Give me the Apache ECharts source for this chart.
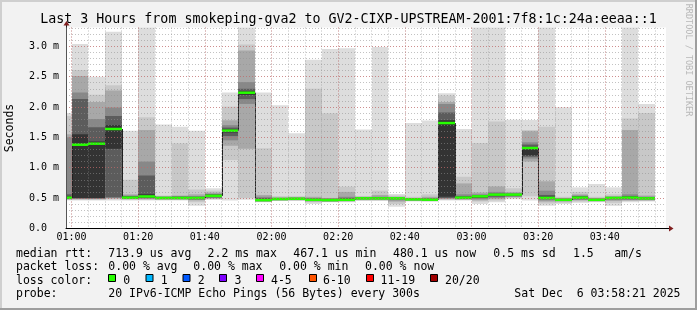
<!DOCTYPE html>
<html><head><meta charset="utf-8">
<script src="https://cdn.jsdelivr.net/npm/echarts@6/dist/echarts.min.js"></script>
<style>html,body{margin:0;padding:0;background:#f2f2f2}#c{width:697px;height:310px}</style>
</head><body><div id="c"></div>
<script>
// ---- data (5-minute smokeping steps, values in ms) ----
const barStart = ['00:55','01:00','01:05','01:10','01:15','01:20','01:25','01:30','01:35','01:40',
  '01:45','01:50','01:55','02:00','02:05','02:10','02:15','02:20','02:25','02:30',
  '02:35','02:40','02:45','02:50','02:55','03:00','03:05','03:10','03:15','03:20',
  '03:25','03:30','03:35','03:40','03:45','03:50'];
const stepMinutes = 5;
// nested smoke ranges: level 1 = outermost (ping1..ping20), level 6 = innermost
const hi1 = [1.90,3.04,2.50,3.24,1.61,3.31,1.71,1.675,1.61,0.66, 2.24,3.31,2.24,2.03,1.565,2.78,2.955,2.97,1.63,2.99, 0.565,1.735,1.775,2.225,1.637,3.31,3.31,1.79,1.785,3.31, 1.995,0.675,0.73,0.675,3.31,2.05];
const hi2 = [1.85,2.61,2.20,2.36,0.80,1.83,0.54,1.40,0.64,0.62, 2.005,3.03,1.32,0.53,0.53,2.30,1.895,0.686,0.53,0.62, 0.54,0.52,0.56,2.19,0.85,1.405,1.76,0.66,1.62,1.675, 0.52,0.60,0.52,0.56,1.81,1.90];
const hi3 = [1.55,2.51,2.08,2.27,0.56,1.62,0.53,0.54,0.56,0.59, 1.78,2.93,0.55,0.51,0.515,0.52,0.50,0.60,0.52,0.55, 0.52,0.50,0.52,2.08,0.74,0.59,0.69,0.60,1.60,0.775, 0.50,0.56,0.50,0.53,1.62,0.54];
const hi4 = [1.50,2.24,1.80,1.99,0.54,1.10,0.52,0.53,0.53,0.57, 1.70,2.41,0.52,0.50,0.505,0.50,0.49,0.52,0.51,0.52, 0.51,0.495,0.50,2.05,0.56,0.56,0.60,0.58,1.417,0.62, 0.49,0.54,0.49,0.52,0.56,0.52];
const hi5 = [0.56,2.13,1.665,1.85,0.53,0.87,0.515,0.52,0.52,0.56, 1.66,2.30,0.50,0.495,0.50,0.49,0.485,0.50,0.505,0.51, 0.50,0.49,0.49,1.91,0.53,0.545,0.575,0.57,1.38,0.55, 0.485,0.53,0.485,0.51,0.53,0.51];
const hi6 = [0.53,1.55,1.43,1.70,0.52,0.56,0.51,0.51,0.51,0.55, 1.63,2.26,0.48,0.49,0.495,0.48,0.48,0.48,0.50,0.50, 0.497,0.485,0.48,1.78,0.52,0.535,0.56,0.56,1.34,0.52, 0.48,0.52,0.48,0.505,0.52,0.50];
const lo6 = [0.49,0.50,0.50,1.31,0.50,0.51,0.49,0.49,0.49,0.52, 1.58,2.20,0.455,0.475,0.48,0.46,0.455,0.46,0.485,0.485, 0.49,0.47,0.465,0.52,0.49,0.51,0.54,0.54,1.20,0.49, 0.46,0.49,0.46,0.49,0.49,0.485];
const lo5 = [0.49,0.49,0.49,0.51,0.49,0.50,0.485,0.485,0.48,0.51, 1.52,2.13,0.45,0.47,0.475,0.455,0.45,0.455,0.48,0.48, 0.48,0.465,0.46,0.50,0.485,0.50,0.52,0.53,1.18,0.48, 0.455,0.48,0.455,0.48,0.48,0.48];
const lo4 = [0.48,0.49,0.49,0.50,0.49,0.49,0.48,0.48,0.47,0.50, 1.45,2.05,0.445,0.465,0.47,0.45,0.445,0.45,0.475,0.475, 0.46,0.46,0.455,0.49,0.48,0.48,0.50,0.52,1.15,0.46, 0.45,0.47,0.45,0.47,0.47,0.47];
const lo3 = [0.48,0.48,0.48,0.49,0.48,0.48,0.475,0.475,0.46,0.49, 1.36,1.31,0.44,0.46,0.465,0.44,0.44,0.445,0.47,0.47, 0.44,0.455,0.45,0.48,0.475,0.46,0.48,0.51,1.10,0.44, 0.44,0.46,0.445,0.45,0.46,0.46];
const lo2 = [0.47,0.47,0.47,0.48,0.47,0.47,0.47,0.47,0.43,0.48, 1.125,0.50,0.44,0.455,0.46,0.43,0.435,0.44,0.46,0.46, 0.40,0.45,0.445,0.47,0.47,0.44,0.46,0.50,0.53,0.41, 0.42,0.44,0.44,0.42,0.45,0.45];
const lo1 = [0.46,0.46,0.46,0.46,0.46,0.46,0.46,0.46,0.37,0.47, 0.46,0.47,0.43,0.45,0.45,0.40,0.43,0.43,0.45,0.45, 0.355,0.44,0.44,0.46,0.46,0.40,0.43,0.48,0.46,0.37, 0.40,0.42,0.43,0.37,0.43,0.44];
const median = [0.505,1.378,1.395,1.637,0.505,0.525,0.50,0.50,0.50,0.535, 1.61,2.235,0.465,0.483,0.487,0.47,0.466,0.47,0.494,0.494, 0.494,0.478,0.472,1.735,0.505,0.527,0.555,0.555,1.323,0.50, 0.47,0.505,0.47,0.50,0.505,0.494];

const xLabels = ['01:00','01:20','01:40','02:00','02:20','02:40','03:00','03:20','03:40'];
const yLabelValues = [0,0.5,1.0,1.5,2.0,2.5,3.0];
const rangeStart = '00:58:21', rangeMinutes = 180;
const yMax = 3.31;

const titleText = 'Last 3 Hours from smokeping-gva2 to GV2-CIXP-UPSTREAM-2001:7f8:1c:24a:eeaa::1';
const legendRows = [
  [['median rtt:',16],['713.9 us avg',108.3],['2.2 ms max',207.6],['467.1 us min',293.3],['480.1 us now',393],['0.5 ms sd',493.3],['1.5',573],['am/s',614.2]],
  [['packet loss:',16],['0.00 % avg',108.3],['0.00 % max',193.3],['0.00 % min',279.2],['0.00 % now',365]],
  [['loss color:',16]],
  [['probe:',16],['20 IPv6-ICMP Echo Pings (56 Bytes) every 300s',108.3]]
];
const lossLabels = ['0','1','2','3','4-5','6-10','11-19','20/20'];
const lossColors = ['#26ff00','#00b8ff','#0059ff','#7e00ff','#ff00ff','#ff5500','#ff0000','#a00000'];
const lossBoxX = [108,145.5,182.5,219,256,309,366,430];
const lossTextX = [123.3,160.7,197.7,234.5,271,323,380.5,445];
const dateText = 'Sat Dec  6 03:58:21 2025';

// ---- helpers ----
const toMin = s => { const p = s.split(':').map(Number); return p[0]*60 + p[1] + (p[2]||0)/60; };
const pad = n => String(n).padStart(2,'0');
const fmtTime = v => { const h = Math.floor(v/60 + 1e-6); const m = Math.round(v - h*60); return pad(h)+':'+pad(m); };
const xMin = toMin(rangeStart), xMax = xMin + rangeMinutes;
const majorX = xLabels.map(toMin);
const minorX = []; for (let m = Math.ceil(xMin/stepMinutes)*stepMinutes; m <= xMax; m += stepMinutes) minorX.push(m);
const minorY = []; for (let i = 0; i*0.1 <= yMax + 1e-9; i++) minorY.push(+(i*0.1).toFixed(1));

const levelHi = [hi1,hi2,hi3,hi4,hi5,hi6];
const levelLo = [lo1,lo2,lo3,lo4,lo5,lo6];
const levelColors = ['#dddddd','#c8c8c8','#a8a8a8','#888888','#5c5c5c','#333333'];
const seriesData = barStart.map((s,i) => [toMin(s), toMin(s)+stepMinutes, hi1[i], lo1[i], median[i]]);

const FONT = '"DejaVu Sans Mono", monospace';
const minorGrid = {show:true, lineStyle:{color:'rgba(143,143,143,0.55)', width:1, type:[1,2]}};
const majorGrid = {show:true, lineStyle:{color:'rgba(222,79,79,0.45)', width:1, type:[1,2]}};

const chart = echarts.init(document.getElementById('c'), null, {renderer:'canvas', width:697, height:310});

const graphics = [];
// frame shading
graphics.push({type:'line', shape:{x1:0,y1:1,x2:697,y2:1}, style:{stroke:'#cfcfcf', lineWidth:2}, z:100});
graphics.push({type:'line', shape:{x1:1,y1:0,x2:1,y2:310}, style:{stroke:'#cfcfcf', lineWidth:2}, z:100});
graphics.push({type:'line', shape:{x1:0,y1:309,x2:697,y2:309}, style:{stroke:'#9e9e9e', lineWidth:2}, z:100});
graphics.push({type:'line', shape:{x1:696,y1:0,x2:696,y2:310}, style:{stroke:'#9e9e9e', lineWidth:2}, z:100});
// title
graphics.push({type:'text', x:348.5, y:19.5, style:{text:titleText, font:'13.3px '+FONT, fill:'#000', align:'center', verticalAlign:'middle'}});
// watermark
graphics.push({type:'text', x:688, y:60, rotation:-Math.PI/2, style:{text:'RRDTOOL / TOBI OETIKER', font:'8.5px '+FONT, fill:'#b8b8b8', align:'center', verticalAlign:'middle'}});
// y axis name
graphics.push({type:'text', x:10.5, y:128, rotation:Math.PI/2, style:{text:'Seconds', font:'11.5px '+FONT, fill:'#000', align:'center', verticalAlign:'middle'}});
// axis arrows
graphics.push({type:'line', shape:{x1:66.5,y1:27.5,x2:66.5,y2:24.5}, style:{stroke:'#1f1f1f', lineWidth:1}, z:100});
graphics.push({type:'polygon', shape:{points:[[63.5,25.5],[69.5,25.5],[66.5,21]]}, style:{fill:'#801f1f'}, z:100});
graphics.push({type:'line', shape:{x1:666,y1:228.5,x2:669,y2:228.5}, style:{stroke:'#000', lineWidth:1}, z:100});
graphics.push({type:'polygon', shape:{points:[[669,225.5],[669,231.5],[673.5,228.5]]}, style:{fill:'#801f1f'}, z:100});
// legend rows
const rowY = [254, 267.5, 281, 294.5];
legendRows.forEach((row,r) => row.forEach(([t,x]) => graphics.push({type:'text', x:x, y:rowY[r], style:{text:t, font:'11.5px '+FONT, fill:'#000', align:'left', verticalAlign:'middle'}})));
lossLabels.forEach((t,k) => {
  graphics.push({type:'rect', shape:{x:lossBoxX[k]+0.5, y:274.5, width:7, height:7}, style:{fill:lossColors[k], stroke:'#000', lineWidth:1}});
  graphics.push({type:'text', x:lossTextX[k], y:rowY[2], style:{text:t, font:'11.5px '+FONT, fill:'#000', align:'left', verticalAlign:'middle'}});
});
graphics.push({type:'text', x:680.5, y:rowY[3], style:{text:dateText, font:'11.5px '+FONT, fill:'#000', align:'right', verticalAlign:'middle'}});

const option = {
  backgroundColor:'#f2f2f2',
  animation:false,
  grid:{left:66, right:31, top:27.5, bottom:81.7, show:true, backgroundColor:'#ffffff', borderWidth:0},
  xAxis:[
    {type:'value', min:xMin, max:xMax, position:'bottom', z:3,
     axisLine:{show:true, onZero:false, lineStyle:{color:'#000', width:1}},
     axisTick:{show:false, customValues:minorX}, axisLabel:{show:false, customValues:minorX},
     splitLine:minorGrid},
    {type:'value', min:xMin, max:xMax, position:'bottom', z:3,
     axisLine:{show:false, onZero:false},
     axisTick:{show:false, customValues:majorX},
     axisLabel:{show:true, customValues:majorX, formatter:v => fmtTime(v), margin:4, color:'#000', fontFamily:FONT, fontSize:10},
     splitLine:majorGrid}
  ],
  yAxis:[
    {type:'value', min:0, max:yMax, position:'left', z:3,
     axisLine:{show:true, onZero:false, lineStyle:{color:'#555', width:1}},
     axisTick:{show:false, customValues:minorY}, axisLabel:{show:false, customValues:minorY},
     splitLine:minorGrid},
    {type:'value', min:0, max:yMax, position:'left', z:3,
     axisLine:{show:false, onZero:false},
     axisTick:{show:false, customValues:yLabelValues},
     axisLabel:{show:true, customValues:yLabelValues, margin:7, color:'#000', fontFamily:FONT, fontSize:10,
       formatter:v => v === 0 ? '0.0  ' : v.toFixed(1)+' m'},
     splitLine:majorGrid}
  ],
  graphic:graphics,
  series:[{
    type:'custom', xAxisIndex:0, yAxisIndex:0, data:seriesData, encode:{x:[0,1], y:[2,3,4]},
    renderItem(params, api){
      const i = params.dataIndex;
      const cs = params.coordSys;
      const xa = Math.round(api.coord([api.value(0), 0])[0]);
      const xb = Math.round(api.coord([api.value(1), 0])[0]);
      const x0 = Math.max(xa, cs.x), x1 = Math.min(xb, cs.x + cs.width);
      if (x1 <= x0) return null;
      const Y = v => Math.max(cs.y, api.coord([api.value(0), v])[1]);
      const children = [];
      for (let k = 0; k < 6; k++) {
        const ya = Y(levelHi[k][i]), yb = Y(levelLo[k][i]);
        children.push({type:'rect', shape:{x:x0, y:ya, width:x1-x0, height:Math.max(0,yb-ya)}, style:{fill:levelColors[k]}});
      }
      const ym = Y(median[i]);
      if (i > 0) {
        const yp = Y(median[i-1]);
        children.push({type:'line', shape:{x1:xa+0.5, y1:yp, x2:xa+0.5, y2:ym}, style:{stroke:'#202020', lineWidth:1}});
      }
      children.push({type:'rect', shape:{x:x0, y:ym-1.25, width:x1-x0, height:2.5}, style:{fill:'#26ff00'}});
      return {type:'group', children};
    }
  }]
};
chart.setOption(option);
</script></body></html>
